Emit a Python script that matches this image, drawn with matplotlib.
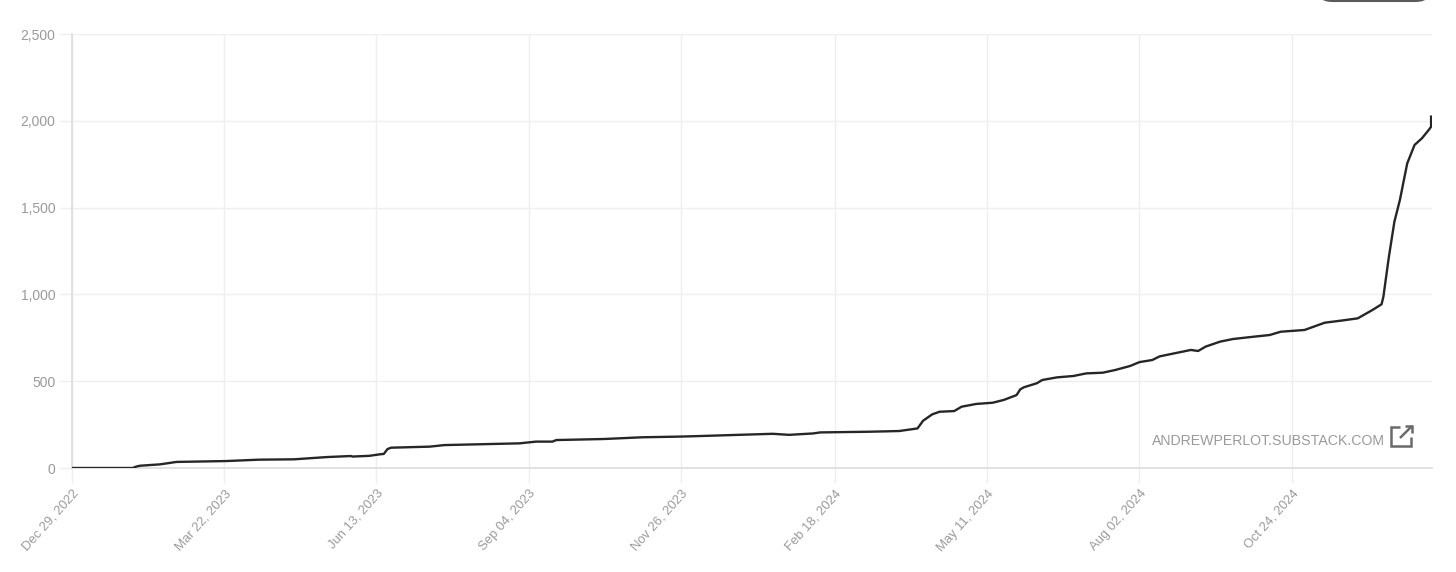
import matplotlib
matplotlib.use("Agg")
import matplotlib.pyplot as plt
from matplotlib.lines import Line2D
from matplotlib.patches import FancyBboxPatch
import pandas as pd

plt.rcParams['font.family'] = ['Liberation Sans', 'DejaVu Sans']

dates = [
    "2022-12-29", "2023-01-31", "2023-02-02", "2023-02-04", "2023-02-15", "2023-02-24",
    "2023-03-23", "2023-04-10", "2023-04-29", "2023-05-17", "2023-05-30", "2023-05-31",
    "2023-06-09", "2023-06-15", "2023-06-17", "2023-06-19", "2023-06-21", "2023-07-12",
    "2023-07-20", "2023-08-30", "2023-09-08", "2023-09-17", "2023-09-19", "2023-10-15",
    "2023-11-05", "2023-11-26", "2023-12-06", "2024-01-15", "2024-01-24", "2024-02-06",
    "2024-02-10", "2024-03-08", "2024-03-24", "2024-04-03", "2024-04-06", "2024-04-11",
    "2024-04-15", "2024-04-23", "2024-04-27", "2024-05-05", "2024-05-14", "2024-05-20",
    "2024-05-27", "2024-05-29", "2024-05-31", "2024-06-07", "2024-06-10", "2024-06-18",
    "2024-06-27", "2024-07-04", "2024-07-13", "2024-07-20", "2024-07-28", "2024-08-02",
    "2024-08-09", "2024-08-13", "2024-08-30", "2024-09-03", "2024-09-07", "2024-09-15",
    "2024-09-22", "2024-10-03", "2024-10-12", "2024-10-18", "2024-10-31", "2024-11-11",
    "2024-11-20", "2024-11-29", "2024-12-07", "2024-12-12", "2024-12-13", "2024-12-16",
    "2024-12-19", "2024-12-22", "2024-12-24", "2024-12-26", "2024-12-30", "2025-01-03",
    "2025-01-07", "2025-01-08", "2025-01-08",
]
subscribers = [
    0, 0, 8, 13, 21, 35,
    40, 48, 50, 63, 69, 66,
    70, 79, 81, 109, 117, 123,
    132, 142, 152, 152, 161, 167,
    177, 181, 184, 197, 191, 199,
    205, 209, 213, 228, 272, 309,
    324, 328, 353, 369, 376, 392,
    420, 453, 465, 488, 507, 522,
    530, 545, 549, 565, 588, 610,
    622, 643, 680, 674, 699, 728,
    743, 756, 766, 785, 795, 837,
    849, 862, 910, 943, 987, 1217,
    1419, 1544, 1650, 1755, 1861, 1899,
    1951, 1966, 2024,
]
x_tick_dates = ["2022-12-29", "2023-03-22", "2023-06-13", "2023-09-04", "2023-11-26",
                "2024-02-18", "2024-05-11", "2024-08-02", "2024-10-24"]
x_tick_labels = ["Dec 29, 2022", "Mar 22, 2023", "Jun 13, 2023", "Sep 04, 2023", "Nov 26, 2023",
                 "Feb 18, 2024", "May 11, 2024", "Aug 02, 2024", "Oct 24, 2024"]
y_ticks = [0, 500, 1000, 1500, 2000, 2500]
y_tick_labels = ["0", "500", "1,000", "1,500", "2,000", "2,500"]
watermark = "ANDREWPERLOT.SUBSTACK.COM"

W, H = 1456, 572
fig = plt.figure(figsize=(W / 100, H / 100), dpi=100)
fig.patch.set_facecolor("white")

def fx(px):
    return px / W

def fy(py):
    return 1 - py / H

ax_left, ax_right, ax_top, ax_bottom = 72, 1432, 34, 468
ax = fig.add_axes([fx(ax_left), fy(ax_bottom), (ax_right - ax_left) / W, (ax_bottom - ax_top) / H])

x = pd.to_datetime(dates)
ax.plot(x, subscribers, color="#262626", lw=1.7, solid_joinstyle="round", zorder=3)

ax.set_xlim(pd.Timestamp("2022-12-29"), pd.Timestamp("2025-01-08 12:00"))
ax.set_ylim(0, 2500)

ax.set_xticks(pd.to_datetime(x_tick_dates))
ax.set_xticklabels(x_tick_labels, rotation=48, ha="right", rotation_mode="anchor")
ax.set_yticks(y_ticks)
ax.set_yticklabels(y_tick_labels)

grid_c = "#efefef"
ax.grid(True, color=grid_c, lw=1)
ax.set_axisbelow(True)
ax.tick_params(axis="both", colors=grid_c, labelcolor="#9a9a9a", width=1)
ax.tick_params(axis="y", length=9, pad=3, labelsize=10)
ax.tick_params(axis="x", length=11, pad=3, labelsize=9.4)

for s in ["top", "right"]:
    ax.spines[s].set_visible(False)
ax.spines["left"].set_color("#dcdcdc")
ax.spines["bottom"].set_color("#dcdcdc")
ax.spines["left"].set_linewidth(1.2)
ax.spines["bottom"].set_linewidth(1.2)

# watermark
fig.text(fx(1385), fy(441), watermark, ha="right", va="center", fontsize=10.2,
         color="#9a9a9a")
ic = "#6a6a6a"
icon_lines = [
    ([1400, 1391, 1391, 1411, 1411], [427, 427, 446, 446, 437]),
    ([1400, 1412], [438, 426]),
    ([1405, 1412, 1412], [426, 426, 433]),
]
for xs, ys in icon_lines:
    fig.add_artist(Line2D([fx(v) for v in xs], [fy(v) for v in ys], color=ic, lw=1.8,
                          solid_capstyle="butt", solid_joinstyle="miter"))

# partially visible button at top right
btn = FancyBboxPatch((fx(1322), fy(1)), fx(1426) - fx(1322), 0.06,
                     boxstyle="round,pad=0,rounding_size=0.008", transform=fig.transFigure,
                     facecolor="white", edgecolor="#5a5a5a", lw=1.5)
fig.add_artist(btn)

fig.savefig("out.png", dpi=100, facecolor="white")
